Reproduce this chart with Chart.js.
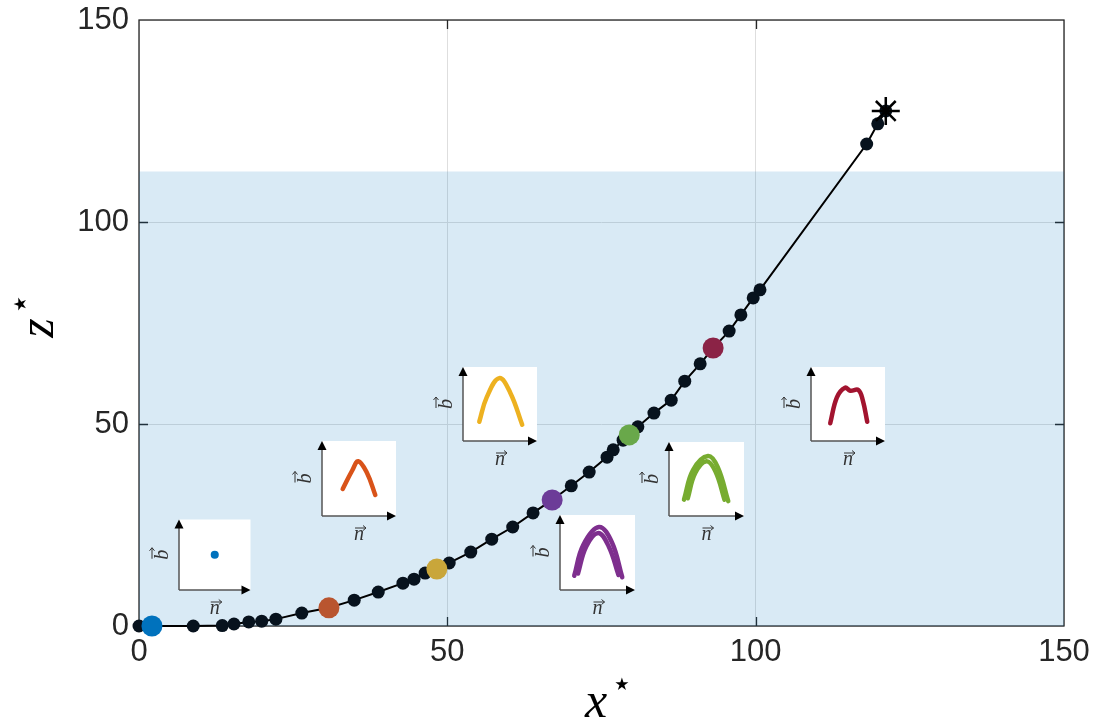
<!DOCTYPE html>
<html>
<head>
  <meta charset="UTF-8">
  <title>Trajectory x* - z*</title>
  <script src="https://cdn.jsdelivr.net/npm/chart.js@4.4.1/dist/chart.umd.min.js"></script>
  <style>
    body { margin: 0; background: #fff; }
    #wrap { position: relative; width: 1098px; height: 726px; }
    #wrap canvas { position: absolute; }
  </style>
</head>
<body>
<div id="wrap">
  <canvas id="main" width="1098" height="726" style="left:0;top:0"></canvas>
</div>
<script>
// trajectory (x*, z*)
const pathX = [0, 2.1, 8.8, 13.5, 15.4, 17.8, 19.9, 22.2, 26.4, 30.8, 34.9, 38.8, 42.8, 44.6, 46.4, 48.3,
  50.3, 53.8, 57.2, 60.6, 63.9, 67.0, 70.1, 73.0, 75.9, 76.9, 78.5, 79.5, 80.9, 83.5, 86.3, 88.5,
  91.0, 93.1, 95.7, 97.6, 99.6, 100.7, 118.0, 119.8, 121.1];
const pathZ = [0, 0, 0, 0.1, 0.5, 1.0, 1.2, 1.7, 3.2, 4.5, 6.4, 8.4, 10.6, 11.6, 13.1, 14.1,
  15.6, 18.3, 21.5, 24.5, 28.0, 31.2, 34.7, 38.1, 41.8, 43.6, 46.0, 47.3, 49.3, 52.7, 55.9, 60.6,
  64.9, 68.8, 73.0, 77.0, 81.2, 83.2, 119.3, 124.3, 127.5];

// highlighted states (one per inset)
const markX = [2.1, 30.8, 48.3, 67.0, 79.5, 93.1];
const markZ = [0, 4.5, 14.1, 31.2, 47.3, 68.8];
const markColors = ['#0072bd', '#b9552f', '#c9a63a', '#6c3c98', '#69a84a', '#8b2346'];

// final state
const endX = [121.1];
const endZ = [127.5];

// shaded band
const bandX = [0, 150];
const bandZ = [112.5, 112.5];

const xTicks = [0, 50, 100, 150];
const zTicks = [0, 50, 100, 150];

// inset shapes, normalized (n, b)
const blueN = [0.5];
const blueB = [0.5];
const orangeN = [0.28, 0.41, 0.49, 0.61, 0.72];
const orangeB = [0.36, 0.61, 0.73, 0.57, 0.28];
const yellowN = [0.22, 0.32, 0.49, 0.64, 0.80];
const yellowB = [0.26, 0.59, 0.85, 0.65, 0.22];
const purpleN = [0.19, 0.31, 0.52, 0.69, 0.83];
const purpleB = [0.19, 0.60, 0.84, 0.64, 0.17];
const purpleInN = [0.24, 0.35, 0.51, 0.65, 0.78];
const purpleInB = [0.22, 0.58, 0.76, 0.58, 0.20];
const greenN = [0.20, 0.32, 0.52, 0.65, 0.79];
const greenB = [0.22, 0.62, 0.81, 0.66, 0.20];
const greenInN = [0.25, 0.35, 0.50, 0.62, 0.74];
const greenInB = [0.24, 0.58, 0.74, 0.60, 0.22];
const redN = [0.26, 0.35, 0.46, 0.53, 0.64, 0.70, 0.76];
const redB = [0.24, 0.59, 0.72, 0.68, 0.69, 0.55, 0.26];

const pts = (xs, ys) => xs.map((x, i) => ({ x: x, y: ys[i] }));

// inset layout: [left, top, width, height] in page pixels
const insets = [
  { box: [179, 515, 76, 75], color: '#0072bd', curves: [pts(blueN, blueB)], dot: true },
  { box: [322, 441, 74, 75], color: '#d95319', curves: [pts(orangeN, orangeB)] },
  { box: [463, 367, 74, 74], color: '#edb120', curves: [pts(yellowN, yellowB)] },
  { box: [560, 515, 75, 75], color: '#7e2f8e', curves: [pts(purpleN, purpleB), pts(purpleInN, purpleInB)] },
  { box: [669, 442, 75, 74], color: '#77ac30', curves: [pts(greenN, greenB), pts(greenInN, greenInB)] },
  { box: [811, 367, 74, 74], color: '#a2142f', curves: [pts(redN, redB)] }
];

const tickFont = { family: '"Liberation Sans", Arial, sans-serif', size: 31 };

const frame = {
  id: 'frame',
  beforeDatasetsDraw(chart) {
    const a = chart.chartArea, ctx = chart.ctx;
    const sx = chart.scales.x, sy = chart.scales.y;
    ctx.save();
    ctx.strokeStyle = '#262626';
    ctx.lineWidth = 1.3;
    ctx.strokeRect(a.left, a.top, a.width, a.height);
    ctx.beginPath();
    xTicks.slice(1, -1).forEach(v => {
      const px = Math.round(sx.getPixelForValue(v)) + 0.5;
      ctx.moveTo(px, a.bottom); ctx.lineTo(px, a.bottom - 9);
      ctx.moveTo(px, a.top); ctx.lineTo(px, a.top + 9);
    });
    zTicks.slice(1, -1).forEach(v => {
      const py = Math.round(sy.getPixelForValue(v)) + 0.5;
      ctx.moveTo(a.left, py); ctx.lineTo(a.left + 9, py);
      ctx.moveTo(a.right, py); ctx.lineTo(a.right - 9, py);
    });
    ctx.stroke();
    ctx.restore();
  },
  afterDraw(chart) {
    const ctx = chart.ctx;
    ctx.save();
    ctx.fillStyle = '#000';
    ctx.textAlign = 'center';
    ctx.textBaseline = 'middle';
    // x label
    ctx.font = 'italic 50px "Liberation Serif", serif';
    ctx.fillText('x', 596, 704);
    ctx.font = '34px "DejaVu Sans", sans-serif';
    ctx.fillText('\u22C6', 622, 686);
    // z label
    ctx.translate(40, 328);
    ctx.rotate(-Math.PI / 2);
    ctx.font = 'italic 50px "Liberation Serif", serif';
    ctx.fillText('z', 0, 0);
    ctx.font = '34px "DejaVu Sans", sans-serif';
    ctx.fillText('\u22C6', 24, -18);
    ctx.restore();
  }
};

new Chart(document.getElementById('main'), {
  type: 'scatter',
  data: {
    datasets: [
      {
        type: 'line', data: pts(bandX, bandZ), fill: 'origin',
        backgroundColor: 'rgba(0,114,189,0.15)', borderWidth: 0, pointRadius: 0, order: 4
      },
      {
        type: 'line', data: pts(pathX, pathZ), borderColor: '#000', borderWidth: 2,
        pointRadius: 6.5, pointBackgroundColor: '#07121d', pointBorderWidth: 0,
        tension: 0, clip: false, order: 3
      },
      {
        data: pts(markX, markZ), backgroundColor: markColors, pointRadius: 10.5,
        pointBorderWidth: 0, clip: false, order: 2
      },
      {
        data: pts(endX, endZ), pointStyle: 'star', pointRadius: 14, borderColor: '#000',
        borderWidth: 2.5, clip: false, order: 1
      }
    ]
  },
  options: {
    responsive: false,
    animation: false,
    layout: { padding: { top: 20, right: 34, left: 0, bottom: 0 } },
    scales: {
      x: {
        type: 'linear', min: 0, max: 150,
        afterBuildTicks: s => { s.ticks = xTicks.map(v => ({ value: v })); },
        afterFit: s => { s.height = 100; },
        grid: { color: '#dedede', drawTicks: false },
        border: { display: false },
        ticks: { font: tickFont, color: '#262626', padding: 8 }
      },
      y: {
        type: 'linear', min: 0, max: 150,
        afterBuildTicks: s => { s.ticks = zTicks.map(v => ({ value: v })); },
        afterFit: s => { s.width = 139; },
        grid: { color: '#dedede', drawTicks: false },
        border: { display: false },
        ticks: { font: Object.assign({ lineHeight: 0.6 }, tickFont), color: '#262626', padding: 10 }
      }
    },
    plugins: { legend: { display: false }, tooltip: { enabled: false } }
  },
  plugins: [frame]
});

// letter with a vector arrow above it
function vecLabel(ctx, letter, x, y, lift) {
  ctx.fillText(letter, x, y);
  const w = ctx.measureText(letter).width;
  const x0 = x - w / 2 + 1, x1 = x + w / 2 + 2, ay = y - lift;
  ctx.lineWidth = 1;
  ctx.beginPath();
  ctx.moveTo(x0, ay); ctx.lineTo(x1, ay);
  ctx.moveTo(x1 - 3, ay - 2.5); ctx.lineTo(x1, ay); ctx.lineTo(x1 - 3, ay + 2.5);
  ctx.stroke();
}

const insetFrame = {
  id: 'insetFrame',
  beforeDatasetsDraw(chart) {
    const a = chart.chartArea, ctx = chart.ctx;
    ctx.save();
    ctx.fillStyle = '#fff';
    ctx.fillRect(a.left, a.top, a.width, a.height);
    ctx.strokeStyle = '#555';
    ctx.lineWidth = 1.5;
    ctx.beginPath();
    ctx.moveTo(a.left, a.bottom); ctx.lineTo(a.left, a.top + 8);
    ctx.moveTo(a.left, a.bottom); ctx.lineTo(a.right - 8, a.bottom);
    ctx.stroke();
    ctx.fillStyle = '#000';
    ctx.beginPath();
    ctx.moveTo(a.left, a.top); ctx.lineTo(a.left - 4.5, a.top + 9); ctx.lineTo(a.left + 4.5, a.top + 9);
    ctx.closePath(); ctx.fill();
    ctx.beginPath();
    ctx.moveTo(a.right, a.bottom); ctx.lineTo(a.right - 9, a.bottom - 4.5); ctx.lineTo(a.right - 9, a.bottom + 4.5);
    ctx.closePath(); ctx.fill();
    ctx.restore();
  },
  afterDraw(chart) {
    const a = chart.chartArea, ctx = chart.ctx;
    ctx.save();
    ctx.fillStyle = '#333';
    ctx.strokeStyle = '#333';
    ctx.textAlign = 'center';
    ctx.textBaseline = 'middle';
    ctx.font = 'italic 20px "Liberation Serif", serif';
    vecLabel(ctx, 'n', (a.left + a.right) / 2, a.bottom + 19, 7);
    ctx.translate(a.left - 16, (a.top + a.bottom) / 2);
    ctx.rotate(-Math.PI / 2);
    vecLabel(ctx, 'b', 0, 0, 11);
    ctx.restore();
  }
};

const wrap = document.getElementById('wrap');
insets.forEach(ins => {
  const [left, top, w, h] = ins.box;
  const padL = 32, padT = 4, padR = 4, padB = 32;
  const cv = document.createElement('canvas');
  cv.width = w + padL + padR;
  cv.height = h + padT + padB;
  cv.style.left = (left - padL) + 'px';
  cv.style.top = (top - padT) + 'px';
  wrap.appendChild(cv);
  new Chart(cv, {
    type: 'scatter',
    data: {
      datasets: ins.curves.map(c => ({
        data: c,
        showLine: !ins.dot,
        borderColor: ins.color,
        backgroundColor: ins.color,
        borderWidth: 4.5,
        borderCapStyle: 'round',
        tension: 0.4,
        pointRadius: ins.dot ? 1.8 : 0
      }))
    },
    options: {
      responsive: false,
      animation: false,
      layout: { padding: { left: padL, top: padT, right: padR, bottom: padB } },
      scales: {
        x: { display: false, min: 0, max: 1 },
        y: { display: false, min: 0, max: 1 }
      },
      plugins: { legend: { display: false }, tooltip: { enabled: false } }
    },
    plugins: [insetFrame]
  });
});
</script>
</body>
</html>
